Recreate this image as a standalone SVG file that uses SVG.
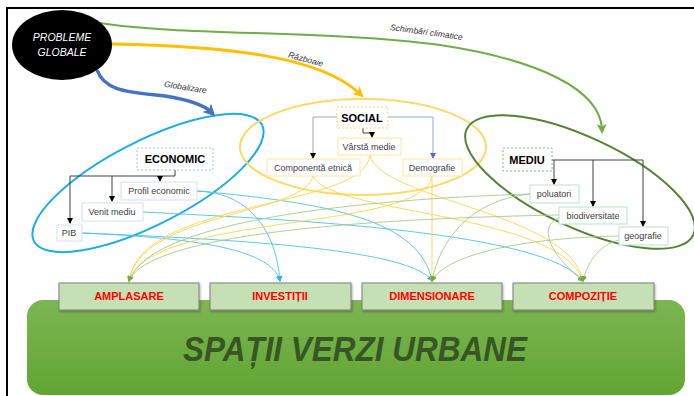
<svg xmlns="http://www.w3.org/2000/svg" width="694" height="396" viewBox="0 0 694 396">
<defs>
<style>
.t{font-family:"Liberation Sans",Arial,sans-serif;fill:#404040;font-size:9px;text-anchor:middle}
.h{font-family:"Liberation Sans",Arial,sans-serif;fill:#000;font-size:11px;font-weight:bold;text-anchor:middle}
.lab{font-family:"Liberation Sans",Arial,sans-serif;fill:#333;font-size:8.5px;font-style:italic;text-anchor:middle}
.cat{font-family:"Liberation Sans",Arial,sans-serif;fill:#ff0000;font-size:11px;font-weight:bold;text-anchor:middle}
.box{fill:#fff;stroke-width:1}
.eb{stroke:#d4ddf0}.sb{stroke:#ffe699}.mb{stroke:#b6e3c8}
.tree{fill:none;stroke:#404040;stroke-width:1}
.cb{fill:none;stroke:#4cc0ee;stroke-width:0.9}
.cy{fill:none;stroke:#ffd24d;stroke-width:0.9}
.cg{fill:none;stroke:#a3cc85;stroke-width:0.9}
.catbox{fill:#c5e0b4;stroke:#7f7f7f;stroke-width:1}
</style>
<marker id="ak" markerWidth="6" markerHeight="6" refX="5" refY="3" orient="auto" markerUnits="userSpaceOnUse"><path d="M0,0 L6,3 L0,6 z" fill="#000"/></marker>
<marker id="ab" markerWidth="6" markerHeight="6" refX="5" refY="3" orient="auto" markerUnits="userSpaceOnUse"><path d="M0,0 L6,3 L0,6 z" fill="#4472c4"/></marker>
<marker id="mb" markerWidth="6" markerHeight="6" refX="5" refY="3" orient="auto" markerUnits="userSpaceOnUse"><path d="M0,0 L6,3 L0,6 z" fill="#29b6f0"/></marker>
<marker id="my" markerWidth="6" markerHeight="6" refX="5" refY="3" orient="auto" markerUnits="userSpaceOnUse"><path d="M0,0 L6,3 L0,6 z" fill="#f5c000"/></marker>
<marker id="mg" markerWidth="6" markerHeight="6" refX="5" refY="3" orient="auto" markerUnits="userSpaceOnUse"><path d="M0,0 L6,3 L0,6 z" fill="#70ad47"/></marker>
<marker id="tb" markerWidth="12" markerHeight="12" refX="6" refY="6" orient="auto" markerUnits="userSpaceOnUse"><path d="M0,0 L12,6 L0,12 L3,6 z" fill="#4472c4"/></marker>
<marker id="ty" markerWidth="11" markerHeight="11" refX="6" refY="5.5" orient="auto" markerUnits="userSpaceOnUse"><path d="M0,0 L11,5.5 L0,11 L3,5.5 z" fill="#ffc000"/></marker>
<marker id="tg" markerWidth="10" markerHeight="10" refX="5" refY="5" orient="auto" markerUnits="userSpaceOnUse"><path d="M0,0 L10,5 L0,10 L2.5,5 z" fill="#70ad47"/></marker>
<linearGradient id="gg" x1="0" y1="0" x2="0" y2="1"><stop offset="0" stop-color="#7cb652"/><stop offset="1" stop-color="#62a534"/></linearGradient>
<filter id="sh" x="-5%" y="-5%" width="110%" height="130%"><feDropShadow dx="1" dy="1.5" stdDeviation="1" flood-color="#000" flood-opacity="0.3"/></filter>
</defs>
<rect width="694" height="396" fill="#fff"/>
<path d="M7,396 V8 H694" fill="none" stroke="#000" stroke-width="2"/>

<g id="spatii">
<rect x="27" y="300" width="658" height="95" rx="16" fill="url(#gg)"/>
<text x="355" y="361" font-family="'Liberation Sans',Arial,sans-serif" font-size="35" font-weight="bold" font-style="italic" fill="#375623" text-anchor="middle" textLength="344" lengthAdjust="spacingAndGlyphs">SPAȚII VERZI URBANE</text>
</g>

<ellipse id="ell-economic" cx="148" cy="183" rx="128" ry="42" transform="rotate(-27 148 183)" fill="none" stroke="#1cade4" stroke-width="2"/>
<ellipse id="ell-social" cx="363" cy="147" rx="123" ry="48" fill="none" stroke="#ffd966" stroke-width="2"/>
<ellipse id="ell-mediu" cx="580" cy="182" rx="125" ry="45" transform="rotate(25 580 182)" fill="none" stroke="#548235" stroke-width="2"/>

<g id="connectors">
<path d="M97,70 C105,92 130,92 165,96 C190,100 205,106 211,112" fill="none" stroke="#4472c4" stroke-width="3.5" marker-end="url(#tb)"/>
<path d="M112,44 C220,46 320,55 360,94" fill="none" stroke="#ffc000" stroke-width="3" marker-end="url(#ty)"/>
<path d="M100,23 C180,36 330,30 440,45 C540,60 600,90 602,129" fill="none" stroke="#70ad47" stroke-width="2" marker-end="url(#tg)"/>
<path class="tree" d="M175,170 V176 H70 V223" marker-end="url(#ak)"/>
<path class="tree" d="M160,176 V181" marker-end="url(#ak)"/>
<path class="tree" d="M112,176 V201" marker-end="url(#ak)"/>
<path d="M337,117 H313 V158" fill="none" stroke="#a6a6a6" stroke-width="1" marker-end="url(#ak)"/>
<path d="M388,117 H433 V158" fill="none" stroke="#8faadc" stroke-width="1" marker-end="url(#ab)"/>
<path class="tree" d="M363,128 V133 H372 V137" marker-end="url(#ak)"/>
<path class="tree" d="M552,160 H643 V226" marker-end="url(#ak)"/>
<path class="tree" d="M554,160 V184" marker-end="url(#ak)"/>
<path class="tree" d="M593,160 V206" marker-end="url(#ak)"/>
<path class="cb" d="M197,191 C240,192 275,220 280,281" marker-end="url(#mb)"/>
<path class="cb" d="M197,191 C330,203 420,220 432,281" marker-end="url(#mb)"/>
<path class="cb" d="M143,212 C300,220 545,232 583,281" marker-end="url(#mb)"/>
<path class="cb" d="M82,233 C200,238 272,250 280,281" marker-end="url(#mb)"/>
<path class="cb" d="M82,233 C250,240 412,250 432,281" marker-end="url(#mb)"/>
<path class="cy" d="M313,176 C305,215 140,212 129,281" marker-end="url(#my)"/>
<path class="cy" d="M313,176 C330,215 560,212 583,281" marker-end="url(#my)"/>
<path class="cy" d="M370,155 C365,210 140,198 129,281" marker-end="url(#my)"/>
<path class="cy" d="M370,155 C380,200 570,212 583,281" marker-end="url(#my)"/>
<path class="cy" d="M432,176 L432,281" marker-end="url(#my)"/>
<path class="cy" d="M432,176 C425,232 150,212 129,281" marker-end="url(#my)"/>
<path class="cg" d="M530,194 C400,198 150,215 129,281" marker-end="url(#mg)"/>
<path class="cg" d="M530,194 C470,200 440,240 432,281" marker-end="url(#mg)"/>
<path class="cg" d="M559,215 C400,218 150,230 129,281" marker-end="url(#mg)"/>
<path class="cg" d="M559,218 C540,225 545,250 583,281" marker-end="url(#mg)"/>
<path class="cg" d="M619,236 C520,238 445,255 432,281" marker-end="url(#mg)"/>
<path class="cg" d="M619,240 C600,245 588,260 583,281" marker-end="url(#mg)"/>
</g>

<g id="labels">
<text class="lab" transform="translate(185,90) rotate(9)">Globalizare</text>
<text class="lab" transform="translate(305,62) rotate(15)">Războaie</text>
<text class="lab" transform="translate(426,35) rotate(8)">Schimbări climatice</text>
</g>

<g id="probleme">
<ellipse cx="62" cy="45" rx="50" ry="35" fill="#000"/>
<text x="62" y="41" font-family="'Liberation Sans',Arial,sans-serif" font-size="10.5" font-style="italic" fill="#fff" text-anchor="middle">PROBLEME</text>
<text x="62" y="56" font-family="'Liberation Sans',Arial,sans-serif" font-size="10.5" font-style="italic" fill="#fff" text-anchor="middle">GLOBALE</text>
</g>

<g id="economic"><rect x="137" y="148" width="76" height="22" fill="#fff" stroke="#9dc3e6" stroke-dasharray="2,2"/><text class="h" x="175" y="163">ECONOMIC</text></g>
<g id="profil"><rect class="box eb" x="121" y="182" width="76" height="18"/><text class="t" x="159" y="194">Profil  economic</text></g>
<g id="venit"><rect class="box eb" x="82" y="203" width="61" height="18"/><text class="t" x="112" y="215">Venit mediu</text></g>
<g id="pib"><rect class="box eb" x="57" y="225" width="25" height="16"/><text class="t" x="69" y="236">PIB</text></g>

<g id="social"><rect x="337" y="107" width="51" height="21" fill="#fff" stroke="#ffd966" stroke-dasharray="2,2"/><text class="h" x="362" y="122">SOCIAL</text></g>
<g id="varsta"><rect class="box sb" x="338" y="138" width="63" height="17"/><text class="t" x="369" y="150">Vârstă medie</text></g>
<g id="componenta"><rect class="box sb" x="267" y="159" width="93" height="17"/><text class="t" x="313" y="171">Componentă etnică</text></g>
<g id="demografie"><rect class="box sb" x="403" y="159" width="59" height="17"/><text class="t" x="432" y="171">Demografie</text></g>

<g id="mediu"><rect x="503" y="148" width="49" height="23" fill="#fff" stroke="#70c08c" stroke-dasharray="2,2"/><text class="h" x="527" y="164">MEDIU</text></g>
<g id="poluatori"><rect class="box mb" x="530" y="185" width="49" height="18"/><text class="t" x="554" y="197">poluatori</text></g>
<g id="biodiversitate"><rect class="box mb" x="559" y="207" width="68" height="17"/><text class="t" x="593" y="219">biodiversitate</text></g>
<g id="geografie"><rect class="box mb" x="619" y="227" width="49" height="18"/><text class="t" x="643" y="239">geografie</text></g>

<g id="amplasare"><rect class="catbox" x="59" y="283" width="140" height="27" filter="url(#sh)"/><text class="cat" x="129" y="300">AMPLASARE</text></g>
<g id="investitii"><rect class="catbox" x="210" y="283" width="141" height="27" filter="url(#sh)"/><text class="cat" x="280" y="300">INVESTIȚII</text></g>
<g id="dimensionare"><rect class="catbox" x="362" y="283" width="140" height="27" filter="url(#sh)"/><text class="cat" x="432" y="300">DIMENSIONARE</text></g>
<g id="compozitie"><rect class="catbox" x="513" y="283" width="141" height="27" filter="url(#sh)"/><text class="cat" x="583" y="300">COMPOZIȚIE</text></g>
</svg>
